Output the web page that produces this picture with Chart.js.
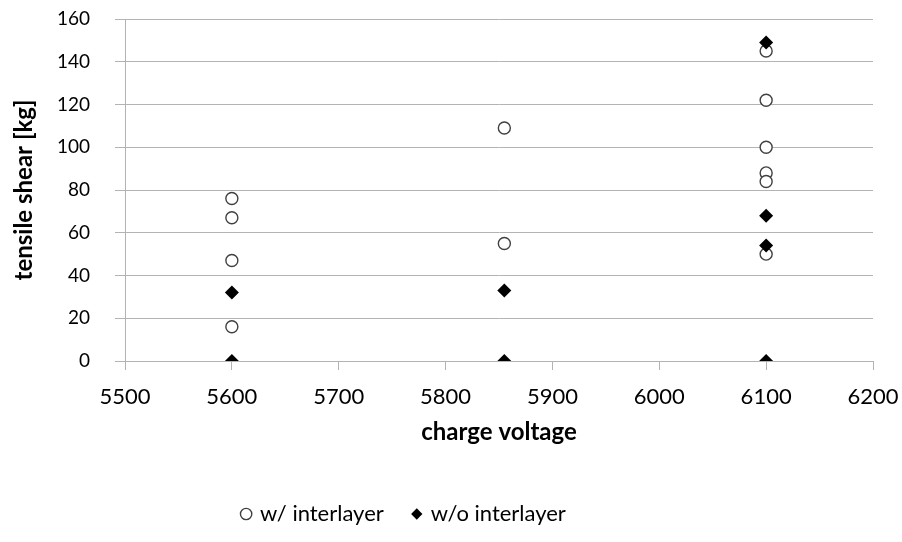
<!DOCTYPE html>
<html>
<head>
<meta charset="utf-8">
<script src="https://cdn.jsdelivr.net/npm/chart.js@4"></script>
<style>
  html, body { margin: 0; padding: 0; background: #fff; }
  #wrap { width: 902px; height: 542px; }
</style>
</head>
<body>
<div id="wrap"><canvas id="shearChart"></canvas></div>
<script>
// charge voltage / tensile shear samples
const withVoltage = [5600, 5600, 5600, 5600, 5855, 5855, 6100, 6100, 6100, 6100, 6100, 6100]
const withShear = [76, 67, 47, 16, 109, 55, 145, 122, 100, 88, 84, 50]
const withoutVoltage = [5600, 5600, 5855, 5855, 6100, 6100, 6100, 6100]
const withoutShear = [32, 0, 33, 0, 149, 68, 54, 0]
const xTicks = [5500, 5600, 5700, 5800, 5900, 6000, 6100, 6200]
const yTicks = [0, 20, 40, 60, 80, 100, 120, 140, 160]

const toPoints = (xs, ys) => xs.map((x, i) => ({ x: x, y: ys[i] }))

const gridGray = "#b3b3b3"
const fontFamily = "Lato, 'Open Sans', sans-serif"

// legend sits a bit left of the canvas centre
const legendShift = {
  id: "legendShift",
  afterLayout(chart) {
    chart.legend.left -= 32
    chart.legend.right -= 32
  },
}

const ctx = document.getElementById("shearChart").getContext("2d")
new Chart(ctx, {
  type: "scatter",
  plugins: [legendShift],
  data: {
    datasets: [
      {
        label: "w/ interlayer",
        data: toPoints(withVoltage, withShear),
        pointStyle: "circle",
        pointRadius: 6,
        pointHoverRadius: 6,
        backgroundColor: "#ffffff",
        borderColor: "#404040",
        borderWidth: 1.4,
        order: 2,
      },
      {
        label: "w/o interlayer",
        data: toPoints(withoutVoltage, withoutShear),
        pointStyle: "rectRot",
        pointRadius: 7,
        pointHoverRadius: 7,
        backgroundColor: "#000000",
        borderColor: "#000000",
        borderWidth: 0,
        order: 1,
      },
    ],
  },
  options: {
    responsive: true,
    maintainAspectRatio: false,
    animation: false,
    layout: {
      padding: { top: 19, right: 29, bottom: 7, left: 0 },
    },
    scales: {
      x: {
        type: "linear",
        min: 5500,
        max: 6200,
        afterBuildTicks: (axis) => {
          axis.ticks = xTicks.map((v) => ({ value: v }))
        },
        afterFit: (axis) => {
          axis.height = 112
          axis.paddingLeft = 0
          axis.paddingRight = 0
        },
        grid: {
          drawOnChartArea: false,
          drawTicks: true,
          tickLength: 9,
          tickColor: gridGray,
        },
        border: { color: gridGray, width: 1 },
        ticks: {
          color: "#000",
          padding: 14,
          maxRotation: 0,
          callback: (v) => String(v),
          font: { family: fontFamily, size: 22 },
        },
        title: {
          display: true,
          text: "charge voltage",
          color: "#000",
          padding: { top: 0, bottom: 26 },
          font: { family: fontFamily, size: 24, weight: "bold" },
        },
      },
      y: {
        min: 0,
        max: 160,
        afterBuildTicks: (axis) => {
          axis.ticks = yTicks.map((v) => ({ value: v }))
        },
        afterFit: (axis) => {
          axis.width = 125
          axis.paddingTop = 0
          axis.paddingBottom = 0
        },
        grid: {
          color: gridGray,
          tickColor: gridGray,
          tickLength: 10,
        },
        border: { color: gridGray, width: 1 },
        ticks: {
          color: "#000",
          padding: 25,
          callback: (v) => String(v),
          font: { family: fontFamily, size: 19 },
        },
        title: {
          display: true,
          text: "tensile shear [kg]",
          color: "#000",
          padding: { top: 10, bottom: 0 },
          font: { family: fontFamily, size: 24, weight: "bold" },
        },
      },
    },
    plugins: {
      legend: {
        position: "bottom",
        labels: {
          usePointStyle: true,
          boxHeight: 8,
          boxWidth: 6,
          color: "#000",
          padding: 30,
          sort: (a, b) => a.datasetIndex - b.datasetIndex,
          font: { family: fontFamily, size: 22 },
        },
      },
      tooltip: { enabled: false },
    },
  },
})
</script>
</body>
</html>
